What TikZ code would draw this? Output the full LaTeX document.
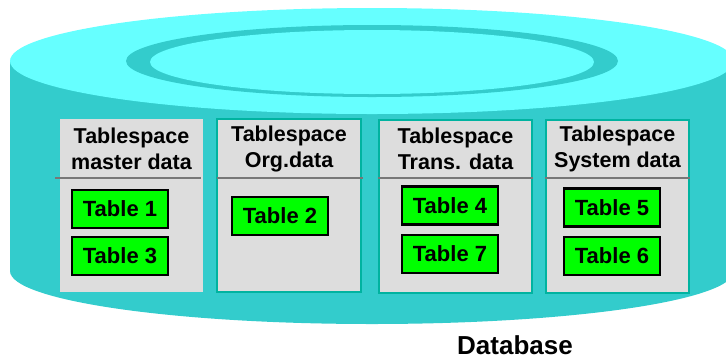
\documentclass[tikz,border=0pt]{standalone}
\usepackage{fontspec}
\setmainfont{Liberation Sans}
\definecolor{cyltop}{HTML}{66FFFF}
\definecolor{cylside}{HTML}{33CCCC}
\definecolor{tsgray}{HTML}{DDDDDD}
\definecolor{tsborder}{HTML}{00B3A0}
\definecolor{sepgray}{HTML}{777777}
\definecolor{tabgreen}{HTML}{00FF00}
\tikzset{
  tsbox/.style={fill=tsgray, minimum width=#1, inner sep=0pt, minimum height=173pt},
  tsframed/.style={draw=tsborder, line width=2pt},
  tshead/.style={font=\fontsize{21.5}{26.5}\selectfont\bfseries, align=center, inner sep=0pt},
  tabbox/.style={draw=black, line width=2.2pt, fill=tabgreen, minimum width=96pt, minimum height=38pt, inner sep=0pt, font=\fontsize{22}{24}\selectfont\bfseries},
  sepline/.style={draw=sepgray, line width=2.5pt}
}
\begin{document}
\begin{tikzpicture}[x=1pt,y=-1pt]
\useasboundingbox (0,0) rectangle (726,360);
% cylinder
\fill[cylside] (10,61) rectangle (734,271);
\fill[cylside] (372,271) ellipse [x radius=362pt, y radius=53pt];
\fill[cyltop] (372,61) ellipse [x radius=362pt, y radius=53pt];
\fill[cylside] (372,61) ellipse [x radius=246pt, y radius=36pt];
\fill[cyltop] (372,62) ellipse [x radius=222pt, y radius=32pt];
% tablespaces
\node[tsbox=143pt] (b1) at (131.5,205.5) {};
\node[tsbox=144pt, tsframed] (b2) at (289,205.5) {};
\node[tsbox=153pt, tsframed] (b3) at (455.5,206.5) {};
\node[tsbox=143pt, tsframed] (b4) at (617.5,206.5) {};
\draw[sepline] (55,178) -- (201,178);
\draw[sepline] (217,178) -- (363,178);
\draw[sepline] (378,178) -- (533,178);
\draw[sepline] (545,178) -- (690,178);
\node[tshead] (h1) at (131.5,149) {Tablespace\\master data};
\node[tshead] (h2) at (289,149) {Tablespace\\Org.data};
\node[tshead] (h3) at (455.5,149) {Tablespace\\Trans. data};
\node[tshead] (h4) at (617.5,149) {Tablespace\\System data};
% tables
\node[tabbox] (t1) at (120,209) {Table 1};
\node[tabbox] (t3) at (120,256) {Table 3};
\node[tabbox] (t2) at (280,216) {Table 2};
\node[tabbox] (t4) at (450,205.5) {Table 4};
\node[tabbox] (t7) at (450,254) {Table 7};
\node[tabbox] (t5) at (612,207.5) {Table 5};
\node[tabbox] (t6) at (612,256) {Table 6};
\node[font=\fontsize{26}{30}\selectfont\bfseries, inner sep=0pt] (db) at (515,345) {Database};
\end{tikzpicture}
\end{document}
